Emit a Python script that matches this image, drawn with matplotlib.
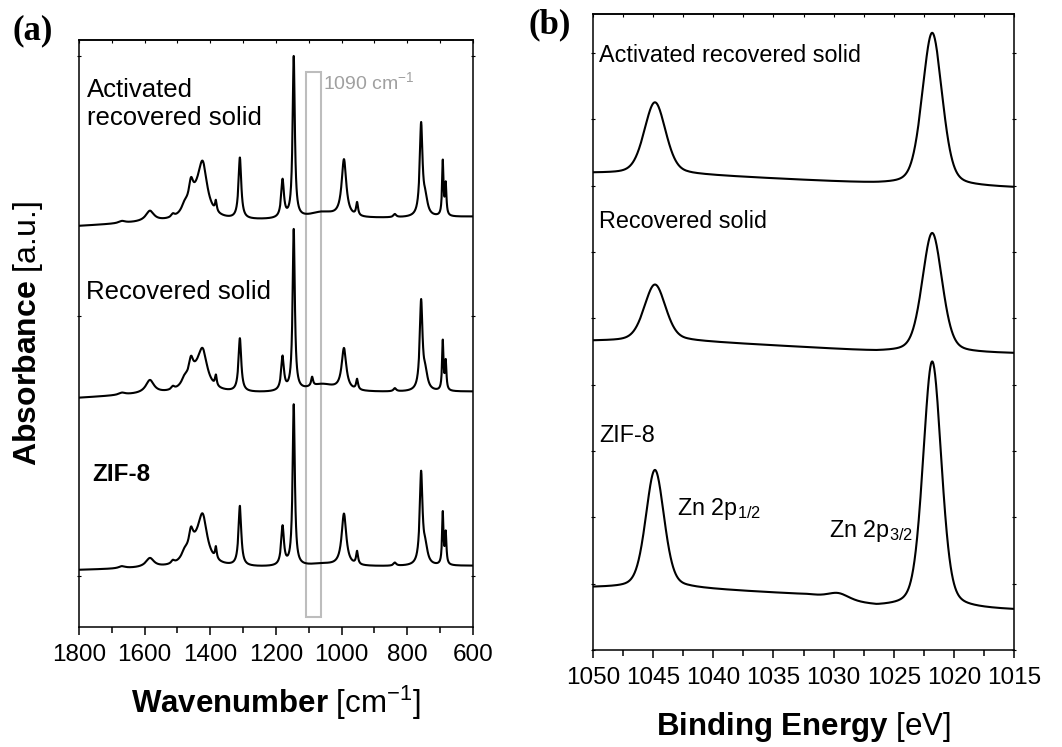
import numpy as np
import matplotlib
matplotlib.use("Agg")
import matplotlib.pyplot as plt
from matplotlib.ticker import MultipleLocator, FixedLocator
from matplotlib.patches import Rectangle

plt.rcParams["font.family"] = ["Liberation Sans", "DejaVu Sans"]
plt.rcParams["mathtext.fontset"] = "custom"
plt.rcParams["mathtext.rm"] = "Liberation Sans"
plt.rcParams["mathtext.bf"] = "Liberation Sans:bold"
plt.rcParams["mathtext.it"] = "Liberation Sans:italic"
plt.rcParams["mathtext.sf"] = "Liberation Sans"

# ---------------- FTIR (panel a) ----------------
# peak tables: centre [cm-1], height [a.u.], half width [cm-1]
ir_centers = [1669, 1584, 1514, 1478, 1459, 1440, 1423, 1383, 1310, 1180, 1146,
              1060, 1090, 993, 953, 838, 758, 745, 692, 683]
ir_zif8_heights = [0.008, 0.035, 0.012, 0.03, 0.075, 0.07, 0.15, 0.045, 0.23, 0.15, 0.62,
                   0.01, 0.0, 0.20, 0.05, 0.012, 0.35, 0.06, 0.20, 0.12]
ir_recovered_heights = [0.008, 0.05, 0.012, 0.03, 0.07, 0.065, 0.12, 0.04, 0.205, 0.13, 0.62,
                        0.03, 0.035, 0.16, 0.04, 0.012, 0.34, 0.06, 0.19, 0.11]
ir_activated_heights = [0.008, 0.04, 0.012, 0.03, 0.08, 0.075, 0.17, 0.04, 0.235, 0.145, 0.62,
                        0.025, 0.0, 0.22, 0.05, 0.012, 0.35, 0.06, 0.21, 0.12]
ir_widths = [12, 15, 6, 12, 8, 30, 16, 3, 5, 5, 4, 50, 3.5, 8.5, 3.5, 5, 5, 8, 2.5, 2.5]

# baselines (wavenumber, absorbance)
ir_base_wn = [600, 1600, 1800]
ir_zif8_base = [0.039, 0.029, 0.023]
ir_recovered_base = [0.709, 0.699, 0.685]
ir_activated_base = [1.382, 1.359, 1.346]

ir_labels = ["ZIF-8", "Recovered solid", "Activated\nrecovered solid"]

# ---------------- XPS Zn 2p (panel b) ----------------
xps_centers = [1044.85, 1021.8, 1029.6]
xps_fwhm = [2.1, 1.95, 2.2]
xps_activated_heights = [1.08, 2.30, 0.0]
xps_recovered_heights = [0.85, 1.80, 0.0]
xps_zif8_heights = [1.78, 3.72, 0.09]
xps_zif8_fwhm = [1.8, 1.8, 2.0]

xps_base_be = [1015, 1026.4, 1032, 1042, 1050]
xps_activated_base = [6.97, 7.03, 7.08, 7.17, 7.19]
xps_recovered_base = [4.47, 4.50, 4.56, 4.66, 4.66]
xps_zif8_base = [0.60, 0.65, 0.83, 0.93, 0.94]

xps_labels = ["ZIF-8", "Recovered solid", "Activated recovered solid"]


def lorentz_sum(x, centers, heights, widths):
    y = np.zeros_like(x)
    for c, h, g in zip(centers, heights, widths):
        y += h * g ** 2 / ((x - c) ** 2 + g ** 2)
    return y


def pvoigt_sum(x, centers, heights, fwhms, eta=0.3):
    y = np.zeros_like(x)
    for c, h, f in zip(centers, heights, fwhms):
        hw = f / 2.0
        lor = 1.0 / (1.0 + ((x - c) / hw) ** 2)
        gau = np.exp(-np.log(2) * ((x - c) / hw) ** 2)
        y += h * (eta * lor + (1 - eta) * gau)
    return y


fig = plt.figure(figsize=(10.62, 7.47), dpi=100)
W, H = 1062.0, 747.0
ax1 = fig.add_axes([79 / W, 1 - 627 / H, 394 / W, 587 / H])
ax2 = fig.add_axes([593 / W, 1 - 650 / H, 421 / W, 636 / H])

LW = 1.5
TICKFS = 17.5

# ---- panel a ----
wn = np.linspace(600, 1800, 4000)
for hts, base in [(ir_zif8_heights, ir_zif8_base),
                  (ir_recovered_heights, ir_recovered_base),
                  (ir_activated_heights, ir_activated_base)]:
    y = np.interp(wn, ir_base_wn, base) + lorentz_sum(wn, ir_centers, hts, ir_widths)
    ax1.plot(wn, y, color="black", lw=LW)

ax1.set_xlim(1800, 600)
ax1.set_ylim(-0.196, 2.062)
ax1.xaxis.set_major_locator(MultipleLocator(200))
ax1.xaxis.set_minor_locator(MultipleLocator(100))
ax1.yaxis.set_major_locator(FixedLocator([0, 1, 2]))

ax1.add_patch(Rectangle((1063, -0.158), 47, 2.097, fill=False,
                        edgecolor="#bdbdbd", lw=1.5, zorder=1))
ax1.text(1057, 1.90, "1090 cm$^{\\mathregular{-1}}$", color="#a0a0a0",
         fontsize=14, ha="left", va="center")

ax1.text(1777, 1.815, ir_labels[2], fontsize=18.5, ha="left", va="center",
         linespacing=1.2)
ax1.text(1780, 1.092, ir_labels[1], fontsize=18.5, ha="left", va="center")
ax1.text(1760, 0.389, ir_labels[0], fontsize=17.5, ha="left", va="center",
         fontweight="bold")

ax1.set_xlabel(r"$\mathbf{Wavenumber}$ [cm$^{\mathregular{-1}}$]", fontsize=22.5,
               labelpad=13)
ax1.set_ylabel(r"$\mathbf{Absorbance}$ [a.u.]", fontsize=23)
ax1.yaxis.set_label_coords(-(79 - 45) / 394, 0.5)

# ---- panel b ----
be = np.linspace(1015, 1050, 3000)
for hts, fw, base in [(xps_zif8_heights, xps_zif8_fwhm, xps_zif8_base),
                      (xps_recovered_heights, xps_fwhm, xps_recovered_base),
                      (xps_activated_heights, xps_fwhm, xps_activated_base)]:
    y = np.interp(be, xps_base_be, base) + pvoigt_sum(be, xps_centers, hts, fw)
    ax2.plot(be, y, color="black", lw=LW)

ax2.set_xlim(1050, 1015)
ax2.set_ylim(0, 9.59)
ax2.xaxis.set_major_locator(MultipleLocator(5))
ax2.xaxis.set_minor_locator(MultipleLocator(2.5))
ax2.yaxis.set_major_locator(MultipleLocator(1))

ax2.text(1049.5, 8.97, xps_labels[2], fontsize=16.8, ha="left", va="center")
ax2.text(1049.5, 6.46, xps_labels[1], fontsize=16.8, ha="left", va="center")
ax2.text(1049.5, 3.24, xps_labels[0], fontsize=16.8, ha="left", va="center")
ax2.text(1043.0, 2.13, "Zn 2p$_{\\mathregular{1/2}}$", fontsize=16.8,
         ha="left", va="center")
ax2.text(1030.4, 1.80, "Zn 2p$_{\\mathregular{3/2}}$", fontsize=16.8,
         ha="left", va="center")

ax2.set_xlabel(r"$\mathbf{Binding\ Energy}$ [eV]", fontsize=22.5, labelpad=15)

# ---- axes styling ----
for ax in (ax1, ax2):
    for sp in ax.spines.values():
        sp.set_linewidth(1.1)
    ax.tick_params(axis="x", which="major", direction="out", length=6, width=1.1,
                   labelsize=TICKFS, pad=6, top=False)
    ax.tick_params(axis="x", which="minor", direction="out", length=4.5, width=1.1,
                   top=False)
    ax.tick_params(axis="y", which="major", direction="inout", length=2.5, width=0.8,
                   left=True, right=True, labelleft=False)
    top = ax.secondary_xaxis("top")
    top.xaxis.set_major_locator(ax.xaxis.get_major_locator())
    top.xaxis.set_minor_locator(ax.xaxis.get_minor_locator())
    top.tick_params(axis="x", which="both", direction="in", length=2.5, width=0.8,
                    labeltop=False)
    top.spines["top"].set_linewidth(1.1)

fig.text(12 / W, 1 - 31 / H, "(a)", fontsize=25, fontweight="bold",
         family="Liberation Serif", ha="left", va="center")
fig.text(528 / W, 1 - 25 / H, "(b)", fontsize=25, fontweight="bold",
         family="Liberation Serif", ha="left", va="center")

fig.savefig("out.png", dpi=100)
